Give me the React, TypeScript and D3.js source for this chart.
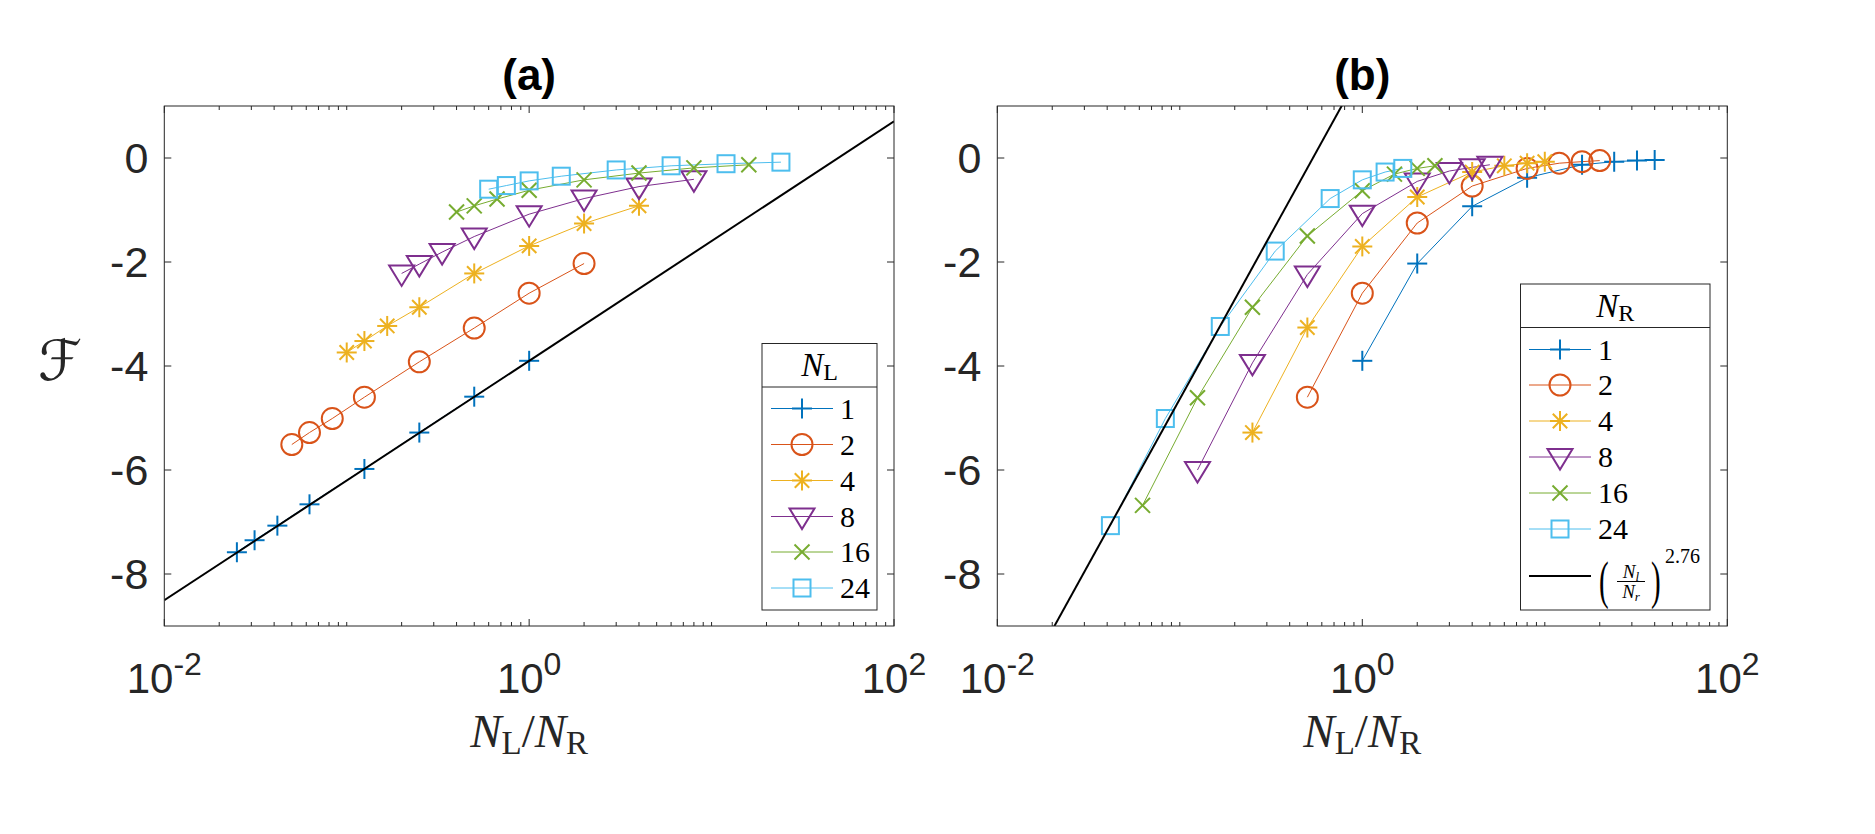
import React from 'react';
import * as d3 from 'd3';

// ---------- data ----------
// Panel (a): series by N_L, x = N_L / N_R with N_R in this order
const nrValuesA = [40, 32, 24, 16, 8, 4, 2, 1];
const nlSeriesA = [1, 2, 4, 8, 16, 24];
const fA_NL1 = [-7.58, -7.35, -7.07, -6.66, -5.98, -5.28, -4.59, -3.9];
const fA_NL2 = [-5.51, -5.28, -5.01, -4.6, -3.92, -3.27, -2.6, -2.03];
const fA_NL4 = [-3.74, -3.52, -3.23, -2.87, -2.22, -1.69, -1.26, -0.92];
const fA_NL8 = [-2.22, -2.04, -1.81, -1.51, -1.08, -0.78, -0.55, -0.41];
const fA_NL16 = [-1.04, -0.92, -0.79, -0.62, -0.42, -0.29, -0.19, -0.13];
const fA_NL24 = [-0.6, -0.53, -0.44, -0.35, -0.23, -0.15, -0.11, -0.08];

// Panel (b): series by N_R, x = N_L / N_R with N_L in this order
const nlValuesB = [1, 2, 4, 8, 16, 24, 32, 40];
const nrSeriesB = [1, 2, 4, 8, 16, 24];
const fB_NR1 = [-3.9, -2.03, -0.93, -0.38, -0.13, -0.07, -0.05, -0.04];
const fB_NR2 = [-4.6, -2.6, -1.25, -0.54, -0.2, -0.1, -0.07, -0.05];
const fB_NR4 = [-5.28, -3.26, -1.7, -0.75, -0.27, -0.15, -0.1, -0.07];
const fB_NR8 = [-6.0, -3.94, -2.24, -1.07, -0.45, -0.25, -0.18, -0.13];
const fB_NR16 = [-6.68, -4.61, -2.87, -1.5, -0.63, -0.31, -0.2, -0.15];
const fB_NR24 = [-7.07, -5.01, -3.24, -1.79, -0.78, -0.42, -0.27, -0.2];

// reference lines  F = slope * ln(x) + intercept
const refA = { slope: 1.0, intercept: -3.9 };
const refB = { slope: 2.76, intercept: 1.72 };

const yTicks = [-8, -6, -4, -2, 0];
const xTickExps = [-2, 0, 2];
const yDomain = [-9, 1];
const xDomain = [1e-2, 1e2];

const colors = ['#0072BD', '#D95319', '#EDB120', '#7E2F8E', '#77AC30', '#4DBEEE'];
const markerTypes = ['plus', 'circle', 'asterisk', 'triangle', 'cross', 'square'];

// ---------- layout ----------
const W = 1875;
const H = 834;
const plotTop = 106;
const plotBottom = 626;
const axisColor = '#262626';
const sansFont = '"Liberation Sans", Arial, Helvetica, sans-serif';
const serifFont = '"Liberation Serif", "Times New Roman", "DejaVu Serif", serif';

function Marker({ type, x, y, color }: { type: string; x: number; y: number; color: string }) {
  const sw = 2;
  if (type === 'plus') {
    return (
      <g stroke={color} strokeWidth={sw}>
        <line x1={x - 10} x2={x + 10} y1={y} y2={y} />
        <line x1={x} x2={x} y1={y - 10} y2={y + 10} />
      </g>
    );
  }
  if (type === 'circle') {
    return <circle cx={x} cy={y} r={10.5} fill="none" stroke={color} strokeWidth={sw} />;
  }
  if (type === 'asterisk') {
    const d = 7.2;
    return (
      <g stroke={color} strokeWidth={sw}>
        <line x1={x - 10} x2={x + 10} y1={y} y2={y} />
        <line x1={x} x2={x} y1={y - 10} y2={y + 10} />
        <line x1={x - d} x2={x + d} y1={y - d} y2={y + d} />
        <line x1={x - d} x2={x + d} y1={y + d} y2={y - d} />
      </g>
    );
  }
  if (type === 'triangle') {
    return (
      <path
        d={`M${x - 12.5},${y - 8}L${x + 12.5},${y - 8}L${x},${y + 12.5}Z`}
        fill="none"
        stroke={color}
        strokeWidth={sw}
      />
    );
  }
  if (type === 'cross') {
    const d = 7.5;
    return (
      <g stroke={color} strokeWidth={sw}>
        <line x1={x - d} x2={x + d} y1={y - d} y2={y + d} />
        <line x1={x - d} x2={x + d} y1={y + d} y2={y - d} />
      </g>
    );
  }
  return <rect x={x - 8.5} y={y - 8.5} width={17} height={17} fill="none" stroke={color} strokeWidth={sw} />;
}

type Series = { xs: number[]; ys: number[] };

function Panel({
  id,
  left,
  right,
  title,
  series,
  refLine,
  children,
}: {
  id: string;
  left: number;
  right: number;
  title: string;
  series: Series[];
  refLine: { slope: number; intercept: number };
  children?: React.ReactNode;
}) {
  const x = d3.scaleLog().domain(xDomain).range([left, right]);
  const y = d3.scaleLinear().domain(yDomain).range([plotBottom, plotTop]);
  const line = d3
    .line<[number, number]>()
    .x((d) => x(d[0]))
    .y((d) => y(d[1]));
  const refPts: [number, number][] = xDomain.map((v) => [v, refLine.slope * Math.log(v) + refLine.intercept]);
  const allTicks = x.ticks();
  const cx = (left + right) / 2;

  return (
    <g>
      <defs>
        <clipPath id={`clip-${id}`}>
          <rect x={left} y={plotTop} width={right - left} height={plotBottom - plotTop} />
        </clipPath>
      </defs>
      <rect x={left} y={plotTop} width={right - left} height={plotBottom - plotTop} fill="#fff" />
      {/* ticks */}
      <g stroke={axisColor} strokeWidth={1}>
        {allTicks.map((t, i) => {
          const lg = Math.log10(t);
          const major = Math.abs(lg - Math.round(lg)) < 1e-9 && Math.round(lg) % 2 === 0;
          const len = major ? 7 : 4;
          const px = x(t);
          return (
            <g key={i}>
              <line x1={px} x2={px} y1={plotBottom} y2={plotBottom - len} />
              <line x1={px} x2={px} y1={plotTop} y2={plotTop + len} />
            </g>
          );
        })}
        {yTicks.map((t) => (
          <g key={t}>
            <line x1={left} x2={left + 7} y1={y(t)} y2={y(t)} />
            <line x1={right} x2={right - 7} y1={y(t)} y2={y(t)} />
          </g>
        ))}
      </g>
      {/* data */}
      <g clipPath={`url(#clip-${id})`}>
        {series.map((s, i) => (
          <path
            key={i}
            d={line(s.xs.map((v, j) => [v, s.ys[j]] as [number, number])) || ''}
            fill="none"
            stroke={colors[i]}
            strokeWidth={1}
          />
        ))}
        {series.map((s, i) =>
          s.xs.map((v, j) => <Marker key={`${i}-${j}`} type={markerTypes[i]} x={x(v)} y={y(s.ys[j])} color={colors[i]} />)
        )}
        <path d={line(refPts) || ''} fill="none" stroke="#000" strokeWidth={2} />
      </g>
      {/* box */}
      <rect
        x={left}
        y={plotTop}
        width={right - left}
        height={plotBottom - plotTop}
        fill="none"
        stroke={axisColor}
        strokeWidth={1}
      />
      {/* y tick labels */}
      {yTicks.map((t) => (
        <text
          key={t}
          x={left - 16}
          y={y(t)}
          dy="0.36em"
          textAnchor="end"
          fontFamily={sansFont}
          fontSize={43}
          fill={axisColor}
        >
          {t === 0 ? '0' : `-${Math.abs(t)}`}
        </text>
      ))}
      {/* x tick labels */}
      {xTickExps.map((e) => (
        <text key={e} x={x(Math.pow(10, e))} y={693} textAnchor="middle" fontFamily={sansFont} fontSize={42} fill={axisColor}>
          <tspan>10</tspan>
          <tspan fontSize={32} dy={-18}>
            {e < 0 ? `-${Math.abs(e)}` : `${e}`}
          </tspan>
        </text>
      ))}
      {/* x label */}
      <text x={cx} y={747} textAnchor="middle" fontFamily={serifFont} fontSize={47} fill={axisColor}>
        <tspan fontStyle="italic">N</tspan>
        <tspan fontSize={33} dy={7}>L</tspan>
        <tspan dy={-7}>/</tspan>
        <tspan fontStyle="italic">N</tspan>
        <tspan fontSize={33} dy={7}>R</tspan>
      </text>
      {/* title */}
      <text x={cx} y={90} textAnchor="middle" fontFamily={sansFont} fontWeight="bold" fontSize={44} fill="#000">
        {title}
      </text>
      {children}
    </g>
  );
}

function Legend({
  left,
  right,
  top,
  bottom,
  divider,
  titleSub,
  entryYs,
  labels,
  lineX1,
  lineX2,
  textX,
}: {
  left: number;
  right: number;
  top: number;
  bottom: number;
  divider: number;
  titleSub: string;
  entryYs: number[];
  labels: number[];
  lineX1: number;
  lineX2: number;
  textX: number;
}) {
  const mid = (left + right) / 2;
  const mx = (lineX1 + lineX2) / 2;
  return (
    <g>
      <rect x={left} y={top} width={right - left} height={bottom - top} fill="#fff" stroke={axisColor} strokeWidth={1} />
      <line x1={left} x2={right} y1={divider} y2={divider} stroke={axisColor} strokeWidth={1} />
      <text x={mid} y={(top + divider) / 2 + 11} textAnchor="middle" fontFamily={serifFont} fontSize={33} fill="#000">
        <tspan fontStyle="italic">N</tspan>
        <tspan fontSize={24} dy={4}>
          {titleSub}
        </tspan>
      </text>
      {labels.map((lab, i) => (
        <g key={i}>
          <line x1={lineX1} x2={lineX2} y1={entryYs[i]} y2={entryYs[i]} stroke={colors[i]} strokeWidth={1} />
          <Marker type={markerTypes[i]} x={mx} y={entryYs[i]} color={colors[i]} />
          <text x={textX} y={entryYs[i] + 10} fontFamily={serifFont} fontSize={30} fill="#000">
            {lab}
          </text>
        </g>
      ))}
    </g>
  );
}

export default function App() {
  const seriesA: Series[] = [fA_NL1, fA_NL2, fA_NL4, fA_NL8, fA_NL16, fA_NL24].map((ys, i) => ({
    xs: nrValuesA.map((nr) => nlSeriesA[i] / nr),
    ys,
  }));
  const seriesB: Series[] = [fB_NR1, fB_NR2, fB_NR4, fB_NR8, fB_NR16, fB_NR24].map((ys, i) => ({
    xs: nlValuesB.map((nl) => nl / nrSeriesB[i]),
    ys,
  }));

  const entryA = [408.5, 444.5, 480.5, 516.5, 552, 588];
  const entryB = [349.5, 385, 421, 457, 493, 529];

  return (
    <svg
      width={W}
      height={H}
      viewBox={`0 0 ${W} ${H}`}
      style={{ position: 'absolute', left: 0, top: 0, background: '#fff' }}
    >
      <rect x={0} y={0} width={W} height={H} fill="#fff" />
      <Panel id="a" left={164.3} right={894} title="(a)" series={seriesA} refLine={refA}>
        <Legend
          left={762}
          right={877}
          top={343.5}
          bottom={610}
          divider={387}
          titleSub="L"
          entryYs={entryA}
          labels={nlSeriesA}
          lineX1={771}
          lineX2={833}
          textX={840}
        />
      </Panel>
      <Panel id="b" left={997.3} right={1727.3} title="(b)" series={seriesB} refLine={refB}>
        <Legend
          left={1520.5}
          right={1710}
          top={284}
          bottom={610}
          divider={327.5}
          titleSub="R"
          entryYs={entryB}
          labels={nrSeriesB}
          lineX1={1529}
          lineX2={1591}
          textX={1598}
        />
        {/* reference line legend entry */}
        <line x1={1529} x2={1591} y1={576} y2={576} stroke="#000" strokeWidth={2} />
        <text
          transform="translate(1599,598) scale(1,1.85)"
          fontFamily={serifFont}
          fontSize={29}
          fill="#000"
        >
          (
        </text>
        <text x={1631} y={578} textAnchor="middle" fontFamily={serifFont} fontSize={19} fill="#000">
          <tspan fontStyle="italic">N</tspan>
          <tspan fontStyle="italic" fontSize={13} dy={3}>
            l
          </tspan>
        </text>
        <line x1={1617} x2={1645} y1={581.5} y2={581.5} stroke="#000" strokeWidth={1} />
        <text x={1631} y={598} textAnchor="middle" fontFamily={serifFont} fontSize={19} fill="#000">
          <tspan fontStyle="italic">N</tspan>
          <tspan fontStyle="italic" fontSize={13} dy={3}>
            r
          </tspan>
        </text>
        <text
          transform="translate(1651,598) scale(1,1.85)"
          fontFamily={serifFont}
          fontSize={29}
          fill="#000"
        >
          )
        </text>
        <text x={1665} y={563} fontFamily={serifFont} fontSize={20} fill="#000">
          2.76
        </text>
      </Panel>
      {/* y label */}
      <text x={60} y={380} textAnchor="middle" fontFamily='"DejaVu Serif", "DejaVu Sans", serif' fontStyle="italic" fontSize={56} fill={axisColor}>
        ℱ
      </text>
    </svg>
  );
}
